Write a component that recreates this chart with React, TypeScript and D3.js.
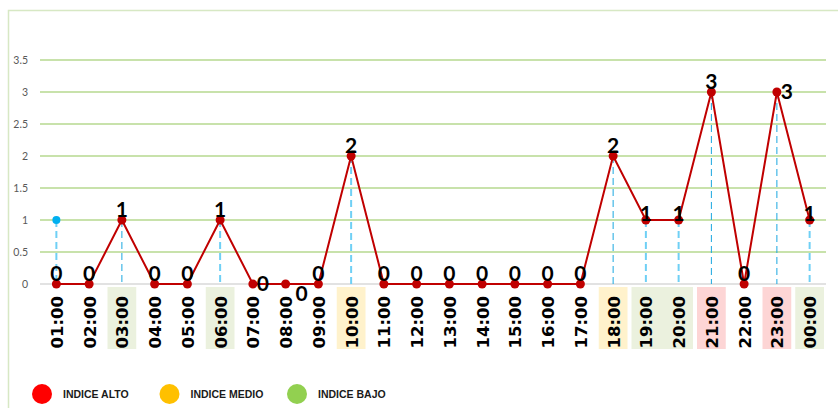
import React from "react";
import * as d3 from "d3";

const hours = ["01:00","02:00","03:00","04:00","05:00","06:00","07:00","08:00","09:00","10:00","11:00","12:00","13:00","14:00","15:00","16:00","17:00","18:00","19:00","20:00","21:00","22:00","23:00","00:00"];
const altoValues = [0,0,1,0,0,1,0,0,0,2,0,0,0,0,0,0,0,2,1,1,3,0,3,1];
const blueValues: (number | null)[] = [1,null,null,null,null,null,null,null,null,null,null,null,null,null,null,null,null,null,null,null,null,null,null,null];
const yTicks = [0,0.5,1,1.5,2,2.5,3,3.5];
// label placement per point (style)
const labelPos = ["above","above","above","above","above","above","right","below","above","above","above","above","above","above","above","above","above","above","on","on","above","above","right","on"];
// highlighted hour label groups
const highlightStart = ["03:00","06:00","10:00","18:00","19:00","21:00","23:00","00:00"];
const highlightEnd = ["03:00","06:00","10:00","18:00","20:00","21:00","23:00","00:00"];
const highlightLevel = ["bajo","bajo","medio","medio","bajo","alto","alto","bajo"];
const legendLabels = ["INDICE ALTO","INDICE MEDIO","INDICE BAJO"];
const legendColors = ["#ff0000","#ffc000","#92d050"];
const thinDrop = ["03:00","18:00","21:00","23:00"];

const bgColors: Record<string,string> = { bajo: "#ebf1de", medio: "#fff2cc", alto: "#fdd5d5" };

export default function App() {
  const W = 838, H = 408;
  const x = d3.scaleBand<string>().domain(hours).range([40, 826]);
  const cx = (h: string) => (x(h) as number) + x.bandwidth() / 2;
  const y = d3.scaleLinear().domain([0, 3.5]).range([284, 60]);
  const line = d3.line<number>().x((_, i) => cx(hours[i])).y(d => y(d));
  const legendX = d3.scalePoint<string>().domain(legendLabels).range([42, 297]);

  return (
    <svg width={W} height={H} style={{ position: "absolute", left: 0, top: 0, background: "#fff" }}>
      <rect x={8.5} y={10.5} width={850} height={420} fill="none" stroke="#d7e8c4" strokeWidth={1.5} />
      {yTicks.map(t => (
        <g key={t}>
          <line x1={40} x2={826} y1={y(t)} y2={y(t)} stroke={t === 0 ? "#d9d9d9" : "#b6d98f"} strokeWidth={1.5} />
          <text x={28} y={y(t)} dy="0.35em" textAnchor="end" fontFamily="Lato, 'Open Sans', sans-serif" fontSize={10.5} fill="#595959">{String(t)}</text>
        </g>
      ))}
      {highlightStart.map((s, i) => {
        const x0 = x(s) as number;
        const x1 = (x(highlightEnd[i]) as number) + x.bandwidth();
        return <rect key={s} x={x0 + 2} y={287} width={x1 - x0 - 4} height={62} fill={bgColors[highlightLevel[i]]} />;
      })}
      {hours.map(h => (
        <text key={h} transform={`translate(${cx(h) + 6.5},${296}) rotate(-90)`} textAnchor="end" fontFamily="'DejaVu Sans', sans-serif" fontWeight="bold" fontSize={16.5} fill="#000">{h}</text>
      ))}
      {altoValues.map((v, i) => v > 0 ? (
        <line key={"d" + i} x1={cx(hours[i])} x2={cx(hours[i])} y1={y(v)} y2={y(0)}
          stroke={thinDrop.includes(hours[i]) ? "#1aa7e0" : "#6fd0f5"} strokeWidth={thinDrop.includes(hours[i]) ? 1 : 2} strokeDasharray="7,4" />
      ) : null)}
      {blueValues.map((v, i) => v != null ? (
        <g key={"b" + i}>
          <line x1={cx(hours[i])} x2={cx(hours[i])} y1={y(v)} y2={y(0)} stroke="#6fd0f5" strokeWidth={2} strokeDasharray="7,4" />
          <circle cx={cx(hours[i])} cy={y(v)} r={4} fill="#00b0f0" />
        </g>
      ) : null)}
      <path d={line(altoValues) || ""} fill="none" stroke="#c00000" strokeWidth={2} />
      {altoValues.map((v, i) => (
        <circle key={"p" + i} cx={cx(hours[i])} cy={y(v)} r={4.5} fill="#c00000" />
      ))}
      {altoValues.map((v, i) => {
        const px = cx(hours[i]), py = y(v);
        const p = labelPos[i];
        let tx = px, ty = py - 3;
        if (p === "right") { tx = px + 10; ty = py + 7; }
        if (p === "below") { tx = px + 16; ty = py + 17; }
        if (p === "on") { tx = px; ty = py + 1; }
        return <text key={"l" + i} x={tx} y={ty} textAnchor="middle" fontFamily="Lato, 'Open Sans', sans-serif" fontWeight="bold" fontSize={21} fill="#000">{String(v)}</text>;
      })}
      {legendLabels.map((l, i) => (
        <g key={l}>
          <circle cx={legendX(l)} cy={394} r={10} fill={legendColors[i]} />
          <text x={(legendX(l) as number) + 21} y={394} dy="0.35em" fontFamily="'Liberation Sans', Arial, sans-serif" fontWeight="bold" fontSize={10.5} fill="#1a1a1a">{l}</text>
        </g>
      ))}
    </svg>
  );
}
